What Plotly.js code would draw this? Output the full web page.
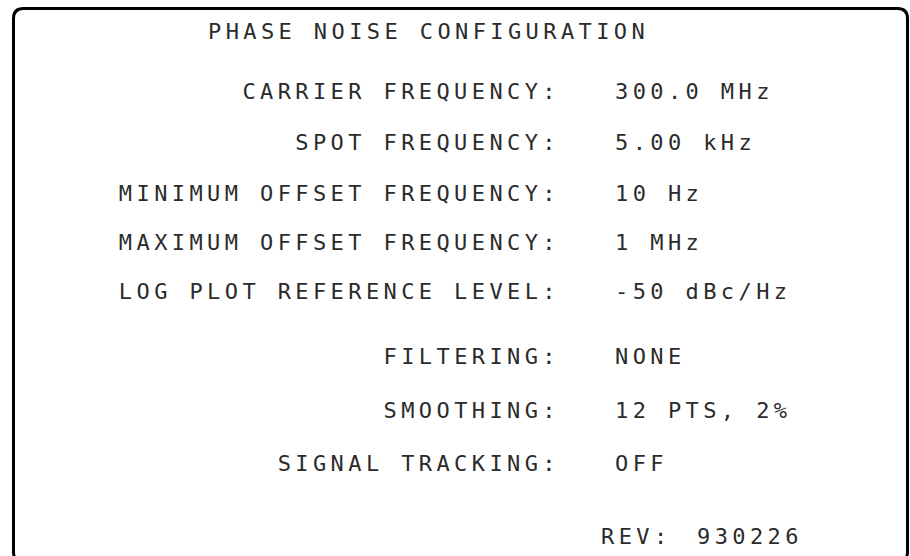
<!DOCTYPE html>
<html>
<head>
<meta charset="utf-8">
<script src="https://cdn.plot.ly/plotly-3.0.1.min.js"></script>
<style>
  html, body { margin: 0; padding: 0; background: #ffffff; }
  #chart { width: 910px; height: 556px; }
  .textpoint text { letter-spacing: 4.4px; }
</style>
</head>
<body>
<div id="chart"></div>
<script>
// ---- content ----
const screenTitle = "PHASE NOISE CONFIGURATION";
const fieldLabels = [
  "CARRIER FREQUENCY:",
  "SPOT FREQUENCY:",
  "MINIMUM OFFSET FREQUENCY:",
  "MAXIMUM OFFSET FREQUENCY:",
  "LOG PLOT REFERENCE LEVEL:",
  "FILTERING:",
  "SMOOTHING:",
  "SIGNAL TRACKING:"
];
const fieldValues = [
  "300.0 MHz",
  "5.00 kHz",
  "10 Hz",
  "1 MHz",
  "-50 dBc/Hz",
  "NONE",
  "12 PTS, 2%",
  "OFF"
];
const revLabel = "REV:";
const revValue = "930226";

// ---- layout (screen geometry, pixel units) ----
const titleRow = 33;
const fieldRows = [93, 144, 195.5, 244, 293, 358, 412.5, 465];
const revRow = 538;
const labelRight = 560;
const valueLeft = 615;
const titleLeft = 208;
const revLabelLeft = 601;
const revValueLeft = 697;

const textFont = { family: "DejaVu Sans Mono", size: 22, color: "#2b2b2b" };

const traces = [
  {
    type: "scatter", mode: "text",
    x: [titleLeft], y: [titleRow], text: [screenTitle],
    textposition: "middle right", textfont: textFont,
    hoverinfo: "skip", showlegend: false, cliponaxis: false
  },
  {
    type: "scatter", mode: "text",
    x: fieldLabels.map(() => labelRight), y: fieldRows, text: fieldLabels,
    textposition: "middle left", textfont: textFont,
    hoverinfo: "skip", showlegend: false, cliponaxis: false
  },
  {
    type: "scatter", mode: "text",
    x: fieldValues.map(() => valueLeft), y: fieldRows, text: fieldValues,
    textposition: "middle right", textfont: textFont,
    hoverinfo: "skip", showlegend: false, cliponaxis: false
  },
  {
    type: "scatter", mode: "text",
    x: [revLabelLeft, revValueLeft], y: [revRow, revRow], text: [revLabel, revValue],
    textposition: "middle right", textfont: textFont,
    hoverinfo: "skip", showlegend: false, cliponaxis: false
  }
];

const framePath = "M 13.5,552 L 13.5,18.5 Q 13.5,8.5 23.5,8.5 L 897.5,8.5 Q 907.5,8.5 907.5,18.5 L 907.5,552 Q 907.5,562 897.5,562 L 23.5,562 Q 13.5,562 13.5,552 Z";

const layout = {
  width: 910, height: 556,
  margin: { l: 0, r: 0, t: 0, b: 0, pad: 0 },
  paper_bgcolor: "#ffffff", plot_bgcolor: "#ffffff",
  xaxis: { range: [0, 910], visible: false, fixedrange: true },
  yaxis: { range: [556, 0], visible: false, fixedrange: true },
  shapes: [
    { type: "path", xref: "x", yref: "y", path: framePath,
      line: { color: "#000000", width: 3 }, fillcolor: "rgba(0,0,0,0)" }
  ],
  showlegend: false
};

Plotly.newPlot("chart", traces, layout, { staticPlot: true, displayModeBar: false });
</script>
</body>
</html>
